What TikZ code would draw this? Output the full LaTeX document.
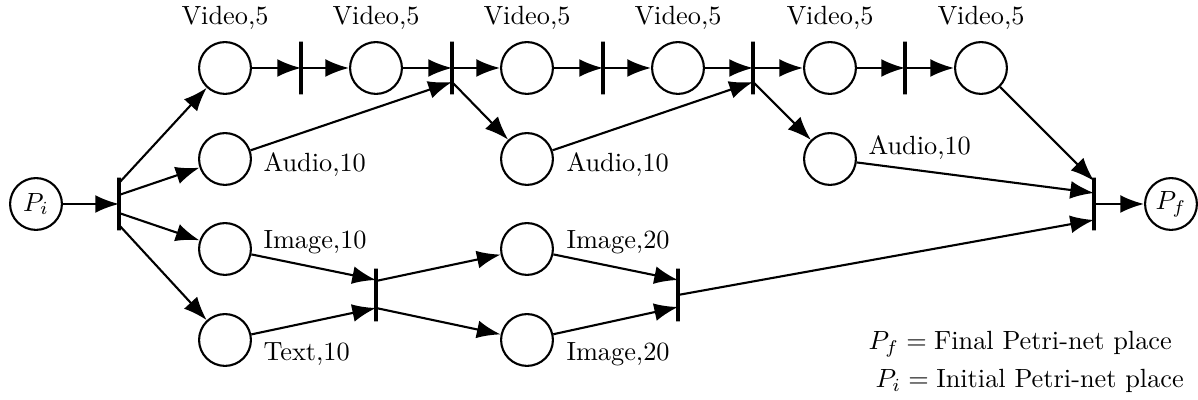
\documentclass[tikz,border=0pt]{standalone}
\usetikzlibrary{arrows.meta,calc}
\begin{document}
\begin{tikzpicture}[x=0.38pt,y=-0.38pt,
  place/.style={circle,draw,line width=0.8pt,minimum size=19.7pt,inner sep=0pt},
  trans/.style={draw,line width=1.2pt,minimum width=0pt,minimum height=20pt,inner sep=0pt},
  arc/.style={line width=0.8pt,-{Latex[length=9pt,width=6.8pt]}},
  lbl/.style={inner sep=0pt}]
\useasboundingbox (0,0) rectangle (1198,400);
% places
\node[place] (Pi) at (36,204) {$P_i$};
\node[place] (Pf) at (1171,204) {$P_f$};
\foreach \n/\x in {1/225,2/376,3/527,4/678,5/830,6/981}{
  \node[place] (V\n) at (\x,68) {};
  \node[lbl,anchor=base] (lv\n) at (\x,25) {Video,5};
}
\node[place] (A1) at (225,159) {};
\node[place] (A2) at (527,159) {};
\node[place] (A3) at (830,159) {};
\node[place] (I1) at (225,249) {};
\node[place] (X1) at (225,340) {};
\node[place] (J1) at (527,249) {};
\node[place] (J2) at (527,340) {};
% transitions
\node[trans] (T1) at (119,204) {};
\foreach \n/\x in {2/301,3/452,4/603,5/753,6/905}{
  \node[trans] (T\n) at (\x,68) {};
}
\node[trans] (T7) at (1094,204) {};
\node[trans] (T8) at (376,295) {};
\node[trans] (T9) at (678,295) {};
% labels
\node[lbl,anchor=base west] (la1) at (263,172) {Audio,10};
\node[lbl,anchor=base west] (la2) at (566,172) {Audio,10};
\node[lbl,anchor=base west] (la3) at (868,155) {Audio,10};
\node[lbl,anchor=base west] (li1) at (263,249) {Image,10};
\node[lbl,anchor=base west] (lx1) at (263,361) {Text,10};
\node[lbl,anchor=base west] (lj1) at (566,249) {Image,20};
\node[lbl,anchor=base west] (lj2) at (566,361) {Image,20};
\node[lbl,anchor=base west] (leg1) at (868,350) {$P_f = \mbox{Final Petri-net place}$};
\node[lbl,anchor=base west] (leg2) at (875,388) {$P_i = \mbox{Initial Petri-net place}$};
% arcs
\draw[arc] (Pi) -- (T1.center);
\draw[arc] ($(T1.center)+(0,-21)$) -- (V1);
\draw[arc] ($(T1.center)+(0,-9)$) -- (A1);
\draw[arc] ($(T1.center)+(0,9)$) -- (I1);
\draw[arc] ($(T1.center)+(0,21)$) -- (X1);
\draw[arc] (V1) -- (T2.center);
\draw[arc] (T2.center) -- (V2);
\draw[arc] (V2) -- (T3.center);
\draw[arc] (A1) -- ($(T3.center)+(0,14)$);
\draw[arc] (T3.center) -- (V3);
\draw[arc] ($(T3.center)+(0,14)$) -- (A2);
\draw[arc] (V3) -- (T4.center);
\draw[arc] (T4.center) -- (V4);
\draw[arc] (V4) -- (T5.center);
\draw[arc] (A2) -- ($(T5.center)+(0,14)$);
\draw[arc] (T5.center) -- (V5);
\draw[arc] ($(T5.center)+(0,14)$) -- (A3);
\draw[arc] (V5) -- (T6.center);
\draw[arc] (T6.center) -- (V6);
\draw[arc] (V6) -- ($(T7.center)+(0,-23)$);
\draw[arc] (A3) -- ($(T7.center)+(0,-11)$);
\draw[arc] (T9.center) -- ($(T7.center)+(0,16)$);
\draw[arc] (T7.center) -- (Pf);
\draw[arc] (I1) -- ($(T8.center)+(0,-15)$);
\draw[arc] (X1) -- ($(T8.center)+(0,13)$);
\draw[arc] ($(T8.center)+(0,-14)$) -- (J1);
\draw[arc] ($(T8.center)+(0,13)$) -- (J2);
\draw[arc] (J1) -- ($(T9.center)+(0,-15)$);
\draw[arc] (J2) -- ($(T9.center)+(0,12)$);
\end{tikzpicture}
\end{document}
